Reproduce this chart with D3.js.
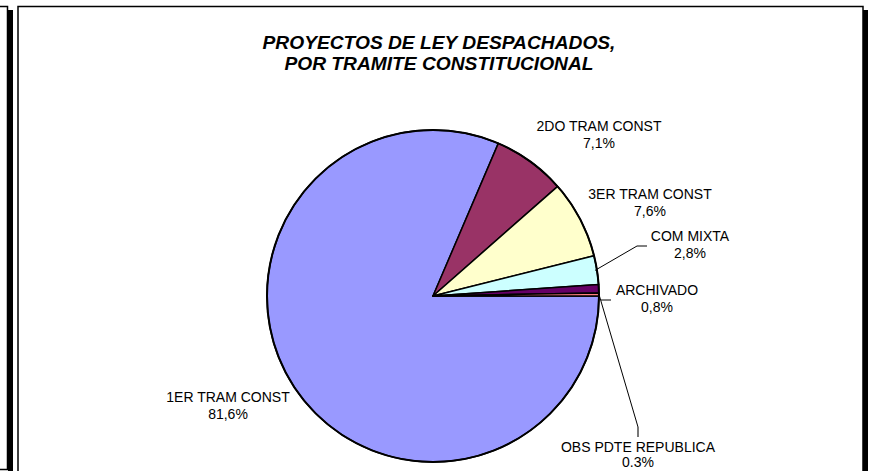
<!DOCTYPE html>
<html>
<head>
<meta charset="utf-8">
<script src="https://cdn.jsdelivr.net/npm/d3@7"></script>
<style>
  body { margin: 0; background: #fff; }
  svg { display: block; }
</style>
</head>
<body>
<div id="chart"></div>
<script>
// Data
const categories = ["1ER TRAM CONST", "2DO TRAM CONST", "3ER TRAM CONST", "COM MIXTA", "ARCHIVADO", "OBS PDTE REPUBLICA"];
const values = [81.6, 7.1, 7.6, 2.8, 0.8, 0.3];
const valueLabels = ["81,6%", "7,1%", "7,6%", "2,8%", "0,8%", "0.3%"];
const colors = ["#9999FF", "#993366", "#FFFFCC", "#CCFFFF", "#660066", "#FF8080"];

const width = 872, height = 471;
const cx = 433, cy = 296, radius = 166;

// label anchors (centre x, first baseline) relative to the pie centre
const labelPos = [
    [-205, 106],
    [166, -165],
    [217, -97],
    [257, -55],
    [224, -1],
    [205, 156]
];
const lineGap = [17, 17, 17, 17, 17, 15];

const svg = d3.select("#chart")
    .append("svg")
    .attr("width", width)
    .attr("height", height)
    .style("font-family", "Arial, 'Liberation Sans', sans-serif");

// remnant of neighbouring chart at the left edge
svg.append("rect").attr("x", 8).attr("y", 10).attr("width", 5).attr("height", height).attr("fill", "#000");
svg.append("path")
    .attr("d", "M0,6.5 H7.5 V469.5 H0")
    .attr("fill", "none").attr("stroke", "#000").attr("stroke-width", 1.5);

// chart frame with shadow
svg.append("rect").attr("x", 863).attr("y", 10).attr("width", 5).attr("height", height).attr("fill", "#000");
svg.append("rect")
    .attr("x", 18).attr("y", 6.5)
    .attr("width", 845).attr("height", 480)
    .attr("fill", "#fff").attr("stroke", "#000").attr("stroke-width", 1.5);

// title
const title = svg.append("text")
    .attr("text-anchor", "middle")
    .style("font-size", "19.2px")
    .style("font-weight", "bold")
    .style("font-style", "italic");
title.append("tspan").attr("x", 439).attr("y", 49).text("PROYECTOS DE LEY DESPACHADOS,");
title.append("tspan").attr("x", 439).attr("y", 70).text("POR TRAMITE CONSTITUCIONAL");

// pie
const pie = d3.pie()
    .sort(null)
    .startAngle(Math.PI / 2)
    .endAngle(Math.PI / 2 + 2 * Math.PI);
const arcs = pie(values);
const arc = d3.arc().innerRadius(0).outerRadius(radius);

const g = svg.append("g").attr("transform", `translate(${cx},${cy})`);

g.selectAll("path.slice")
    .data(arcs)
    .enter()
    .append("path")
    .attr("class", "slice")
    .attr("d", arc)
    .attr("fill", (d, i) => colors[i])
    .attr("stroke", "#000")
    .attr("stroke-width", 1.5)
    .attr("stroke-linejoin", "round");

g.append("circle").attr("r", radius).attr("fill", "none").attr("stroke", "#000").attr("stroke-width", 2);

// edge point of a slice at its mid angle
function edge(d, r) {
    const a = (d.startAngle + d.endAngle) / 2;
    return [r * Math.sin(a), -r * Math.cos(a)];
}

// leader lines
const pCom = edge(arcs[3], radius - 2);
g.append("path")
    .attr("d", `M${pCom[0]},${pCom[1]} L${labelPos[3][0] - 53},${labelPos[3][1] + 5} H${labelPos[3][0] - 43}`)
    .attr("fill", "none").attr("stroke", "#000").attr("stroke-width", 1);

g.append("path")
    .attr("d", `M${radius + 2},4 H${radius + 12}`)
    .attr("fill", "none").attr("stroke", "#000").attr("stroke-width", 1);

const pObs = edge(arcs[5], radius);
g.append("path")
    .attr("d", `M${pObs[0]},${pObs[1]} L${labelPos[5][0]},${labelPos[5][1] - 25}`)
    .attr("fill", "none").attr("stroke", "#000").attr("stroke-width", 1);
g.append("path")
    .attr("d", `M${labelPos[5][0]},${labelPos[5][1] - 25} V${labelPos[5][1] - 15}`)
    .attr("fill", "none").attr("stroke", "#777").attr("stroke-width", 2);

// labels
const labels = g.selectAll("text.label")
    .data(arcs)
    .enter()
    .append("text")
    .attr("class", "label")
    .attr("text-anchor", "middle")
    .style("font-size", "14px")
    .attr("fill", "#000");

labels.append("tspan")
    .attr("x", (d, i) => labelPos[i][0])
    .attr("y", (d, i) => labelPos[i][1])
    .text((d, i) => categories[i]);
labels.append("tspan")
    .attr("x", (d, i) => labelPos[i][0])
    .attr("y", (d, i) => labelPos[i][1] + lineGap[i])
    .text((d, i) => valueLabels[i]);
</script>
</body>
</html>
